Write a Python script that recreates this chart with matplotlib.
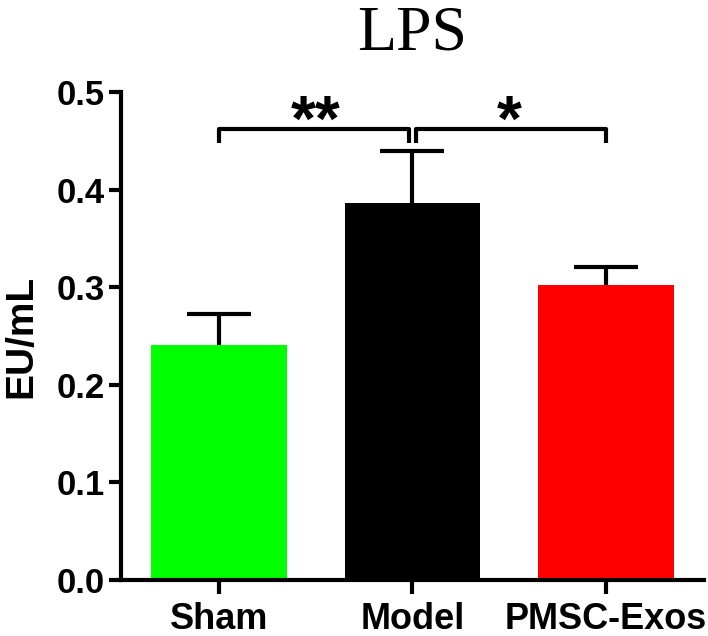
import matplotlib
matplotlib.use('Agg')
import matplotlib.pyplot as plt

groups = ['Sham', 'Model', 'PMSC-Exos']
means = [0.241, 0.386, 0.302]
errors = [0.032, 0.054, 0.019]
colors = ['#00ff00', '#000000', '#ff0000']

# significance brackets: (left group, right group, label)
comparisons = [(0, 1, '**'), (1, 2, '*')]
bracket_y = 0.462
bracket_drop = 0.014

plt.rcParams['font.family'] = ['Liberation Sans', 'DejaVu Sans']

fig = plt.figure(figsize=(7.08, 6.36), dpi=100)
ax = fig.add_axes([0.171, 0.088, 0.823, 0.767])

x = list(range(len(groups)))
ax.bar(x, means, width=0.70, color=colors, zorder=2)
_, caps, _ = ax.errorbar(x, means, yerr=[[0] * len(errors), errors], fmt='none',
                         ecolor='black', elinewidth=3, capsize=23, capthick=3, zorder=1)
caps[0].set_visible(False)  # lower caps sit on the bar top, hide them

for i, j, label in comparisons:
    xl = i + (0.02 if i == 1 else 0)
    xr = j - (0.02 if j == 1 else 0)
    ax.plot([xl, xl, xr, xr],
            [bracket_y - bracket_drop, bracket_y, bracket_y, bracket_y - bracket_drop],
            color='black', lw=3, solid_capstyle='butt', clip_on=False)
    ax.text((i + j) / 2, 0.468, label, ha='center', va='center',
            fontsize=46, fontweight='bold', clip_on=False)

ax.set_xlim(-0.506, 2.506)
ax.set_ylim(0, 0.5)
ax.set_yticks([0.0, 0.1, 0.2, 0.3, 0.4, 0.5])
ax.set_yticklabels(['0.0', '0.1', '0.2', '0.3', '0.4', '0.5'])
ax.set_xticks(x)
ax.set_xticklabels(groups)

for side in ['top', 'right']:
    ax.spines[side].set_visible(False)
for side in ['left', 'bottom']:
    ax.spines[side].set_linewidth(3)

ax.tick_params(axis='y', length=9, width=3, labelsize=25, pad=3)
ax.tick_params(axis='x', length=10, width=3, labelsize=26, pad=6)
for lab in ax.get_xticklabels() + ax.get_yticklabels():
    lab.set_fontweight('bold')

ax.set_ylabel('EU/mL', fontsize=28, fontweight='bold', labelpad=12)
ax.set_title('LPS', fontsize=46, family='Liberation Serif', pad=31)

fig.savefig('out.png', dpi=100)
